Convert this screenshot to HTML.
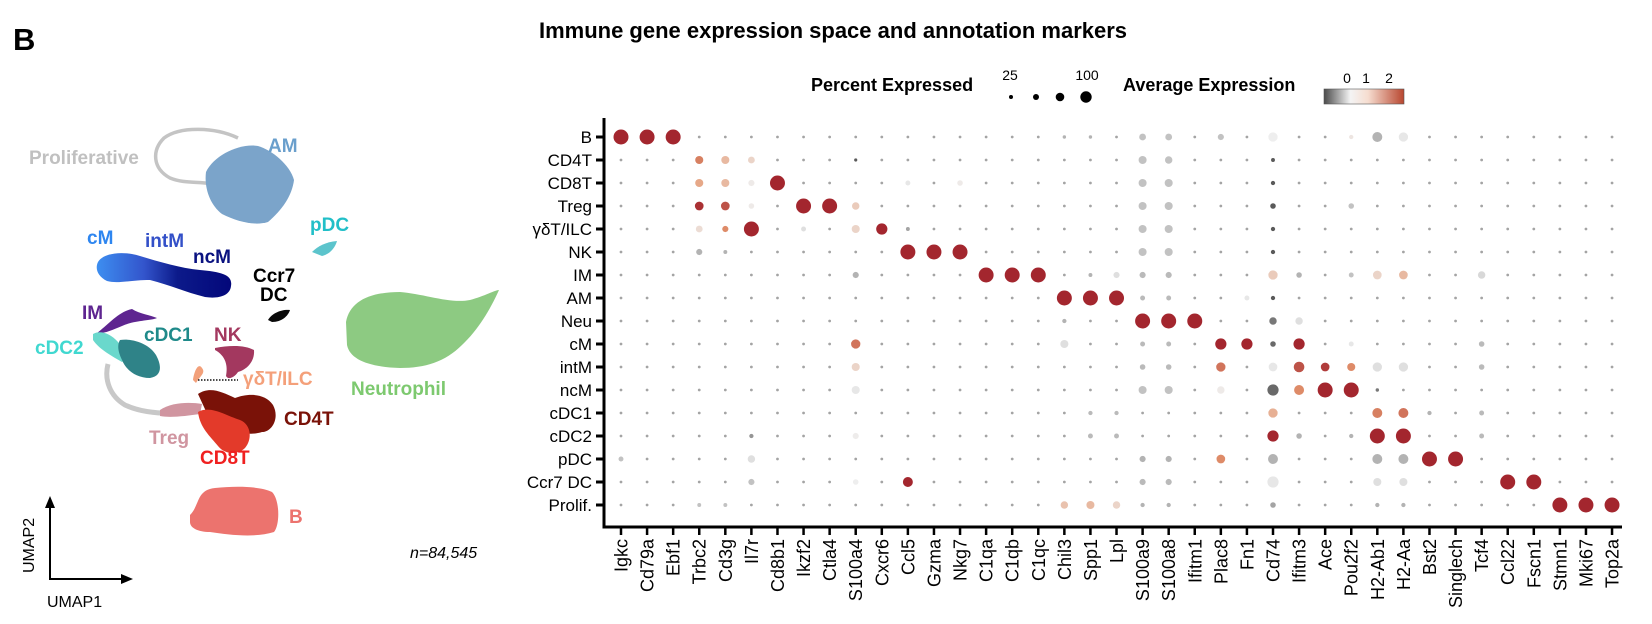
<!DOCTYPE html>
<html><head><meta charset="utf-8"><style>
html,body{margin:0;padding:0;background:#fff;}
svg{display:block;font-family:"Liberation Sans",sans-serif;}
</style></head><body>
<svg id="fig" width="1652" height="624" viewBox="0 0 1652 624" xmlns="http://www.w3.org/2000/svg">
<text x="13" y="50" font-size="31" font-weight="bold">B</text>
<text x="833" y="38" font-size="22" font-weight="bold" text-anchor="middle">Immune gene expression space and annotation markers</text>

<g>
  <path d="M238,138 C215,127 180,126 164,138 C152,150 152,168 170,178 C185,184 198,181 212,184" fill="none" stroke="#c4c4c4" stroke-width="3.5"/>
  <path d="M206,172 C214,155 240,143 258,146 C272,150 290,165 294,180 C292,196 282,210 268,222 C255,226 238,222 222,214 C210,205 204,188 206,172 Z" fill="#7ba4ca"/>
  <path d="M312,252 C318,246 326,242 337,241 C335,248 330,254 322,256 Z" fill="#5cc4cc"/>
  <defs><linearGradient id="mono" x1="0" x2="1"><stop offset="0" stop-color="#3d8ef0"/><stop offset="0.35" stop-color="#3355cc"/><stop offset="0.6" stop-color="#0c1a8a"/><stop offset="1" stop-color="#03077a"/></linearGradient>
  <linearGradient id="cbar" x1="0" x2="1"><stop offset="0" stop-color="#4a4a4a"/><stop offset="0.33" stop-color="#f4f4f4"/><stop offset="0.55" stop-color="#f6ddd0"/><stop offset="1" stop-color="#b8462f"/></linearGradient></defs>
  <path d="M98,262 C104,252 125,251 140,256 C160,262 180,268 200,270 C222,272 233,275 231,286 C230,296 218,299 205,297 C185,292 170,285 150,280 C130,280 118,284 107,281 C97,276 95,268 98,262 Z" fill="url(#mono)"/>
  <path d="M268,320 C272,313 282,309 290,310 C288,316 282,322 272,322 Z" fill="#0a0a0a"/>
  <path d="M97,333 C108,325 118,312 132,309 C140,314 150,315 157,318 C150,321 135,320 122,326 C112,330 104,334 97,333 Z" fill="#5e2590"/>
  <path d="M108,364 C104,380 110,396 125,405 C140,412 160,414 180,413 L196,410" fill="none" stroke="#c8c8c8" stroke-width="5"/>
  <path d="M93,334 C100,330 110,333 118,342 C125,350 128,358 122,362 C112,356 100,350 93,340 Z" fill="#6ad8cc"/>
  <path d="M120,340 C135,338 150,345 156,355 C162,366 162,376 150,378 C136,378 126,370 122,360 C118,352 117,345 120,340 Z" fill="#2f8388"/>
  <path d="M215,348 C230,345 245,345 254,350 C255,362 246,370 238,372 C234,378 228,380 226,376 C228,366 226,356 215,350 Z" fill="#a3385f"/>
  <path d="M160,410 C172,402 190,402 202,404 L200,414 C186,416 170,418 160,416 Z" fill="#d095a0"/>
  <path d="M196,383 C200,376 206,373 202,368 C198,362 194,372 193,380 Z" fill="#f2a07a"/>
  <path d="M198,394 C210,386 222,392 235,398 C248,393 265,393 273,405 C280,418 272,432 262,432 C250,436 238,432 230,430 L210,420 Z" fill="#7a1208"/>
  <path d="M198,412 C210,405 225,415 240,420 C252,425 252,440 245,448 C238,455 225,455 218,446 C210,436 200,428 198,412 Z" fill="#e33a2a"/>
  <path d="M346,322 C350,300 372,292 400,292 C425,294 450,304 470,300 C485,296 495,290 499,290 C490,310 478,330 462,345 C445,362 425,368 400,368 C370,367 350,360 347,345 Z" fill="#8dca82"/>
  <path d="M190,515 C200,505 196,490 215,488 C235,486 260,486 272,492 C280,500 280,525 274,532 C255,538 230,535 210,532 C198,532 190,528 190,522 Z" fill="#ec736e"/>
  <line x1="198" y1="380" x2="238" y2="380" stroke="#111" stroke-width="1.5" stroke-dasharray="1.5,1.5"/>
  <g font-weight="bold" font-size="19">
    <text x="29" y="164" fill="#c0c0c0">Proliferative</text>
    <text x="268" y="152" fill="#6a9fcc">AM</text>
    <text x="310" y="231" fill="#22bfc8">pDC</text>
    <text x="87" y="244" fill="#2e86f0">cM</text>
    <text x="145" y="247" fill="#3350c8">intM</text>
    <text x="193" y="263" fill="#0a1280">ncM</text>
    <text x="253" y="282" fill="#000">Ccr7</text>
    <text x="260" y="301" fill="#000">DC</text>
    <text x="82" y="319" fill="#5e2590">IM</text>
    <text x="35" y="354" fill="#40d8d0">cDC2</text>
    <text x="144" y="341" fill="#1f8a8a">cDC1</text>
    <text x="214" y="341" fill="#a3385f">NK</text>
    <text x="243" y="385" fill="#f4a07a">γδT/ILC</text>
    <text x="351" y="395" fill="#7dc96f">Neutrophil</text>
    <text x="284" y="425" fill="#7a1208">CD4T</text>
    <text x="149" y="444" fill="#d095a0">Treg</text>
    <text x="200" y="464" fill="#f02020">CD8T</text>
    <text x="289" y="523" fill="#ec736e">B</text>
  </g>
  <line x1="50" y1="580" x2="50" y2="505" stroke="#000" stroke-width="2"/>
  <polygon points="50,496 45,508 55,508" fill="#000"/>
  <line x1="49" y1="579" x2="124" y2="579" stroke="#000" stroke-width="2"/>
  <polygon points="133,579 121,574 121,584" fill="#000"/>
  <text transform="translate(34,573) rotate(-90)" font-size="16">UMAP2</text>
  <text x="47" y="607" font-size="16">UMAP1</text>
  <text x="410" y="558" font-size="16" font-style="italic">n=84,545</text>
</g>

<g>
  <text x="811" y="91" font-size="18" font-weight="bold">Percent Expressed</text>
  <text x="1010" y="80" font-size="14" text-anchor="middle">25</text>
  <text x="1087" y="80" font-size="14" text-anchor="middle">100</text>
  <circle cx="1011" cy="97" r="2" fill="#000"/>
  <circle cx="1036" cy="97" r="3" fill="#000"/>
  <circle cx="1060" cy="97" r="4.3" fill="#000"/>
  <circle cx="1086" cy="97" r="5.7" fill="#000"/>
  <text x="1123" y="91" font-size="18" font-weight="bold">Average Expression</text>
  <rect x="1324" y="89" width="80" height="15" fill="url(#cbar)" stroke="#555" stroke-width="0.6"/>
  <text x="1347" y="83" font-size="14" text-anchor="middle">0</text>
  <text x="1366" y="83" font-size="14" text-anchor="middle">1</text>
  <text x="1389" y="83" font-size="14" text-anchor="middle">2</text>
</g>
<g id="dotplot"></g>
</svg>
<script>
const cellTypes = ["B","CD4T","CD8T","Treg","γδT/ILC","NK","IM","AM","Neu","cM","intM","ncM","cDC1","cDC2","pDC","Ccr7 DC","Prolif."];
const genes = ["Igkc","Cd79a","Ebf1","Trbc2","Cd3g","Il7r","Cd8b1","Ikzf2","Ctla4","S100a4","Cxcr6","Ccl5","Gzma","Nkg7","C1qa","C1qb","C1qc","Chil3","Spp1","Lpl","S100a9","S100a8","Ifitm1","Plac8","Fn1","Cd74","Ifitm3","Ace","Pou2f2","H2-Ab1","H2-Aa","Bst2","Singlech","Tcf4","Ccl22","Fscn1","Stmn1","Mki67","Top2a"];
const basePct = 3;
const baseAvg = -0.5;
// notable cells: row index, gene index, percent expressed, average expression
const cellRow = [0,0,0,0,0,0,0,0,0,0,0,0, 1,1,1,1,1,1,1, 2,2,2,2,2,2,2,2,2, 3,3,3,3,3,3,3,3,3,3, 4,4,4,4,4,4,4,4,4,4, 5,5,5,5,5,5,5,5, 6,6,6,6,6,6,6,6,6,6,6,6,6,6, 7,7,7,7,7,7,7, 8,8,8,8,8,8, 9,9,9,9,9,9,9,9,9,9, 10,10,10,10,10,10,10,10,10,10,10, 11,11,11,11,11,11,11,11,11, 12,12,12,12,12,12,12, 13,13,13,13,13,13,13,13,13,13, 14,14,14,14,14,14,14,14,14,14, 15,15,15,15,15,15,15,15,15,15, 16,16,16,16,16,16,16,16,16,16,16,16,16];
const cellGene = [0,1,2,17,18,20,21,23,25,28,29,30, 3,4,5,20,21,25,9, 3,4,5,6,11,13,20,21,25, 3,4,5,7,8,9,20,21,25,28, 3,4,5,7,9,10,11,20,21,25, 3,4,11,12,13,20,21,25, 9,14,15,16,18,19,20,21,25,26,28,29,30,33, 17,18,19,20,21,24,25, 17,20,21,22,25,26, 9,17,20,21,23,24,25,26,28,33, 9,20,21,23,25,26,27,28,29,30,33, 9,20,21,23,25,26,27,28,29, 18,19,25,29,30,31,33, 5,9,18,19,25,26,28,29,30,33, 0,5,20,21,23,25,29,30,31,32, 5,9,11,20,21,25,29,30,34,35, 3,4,17,18,19,20,21,25,29,30,36,37,38];
const cellPct = [100,100,100,8,8,35,35,30,55,15,60,55, 45,45,35,45,40,12,6, 45,45,30,100,20,25,45,45,15, 50,50,25,100,100,40,45,45,25,25, 35,30,100,20,45,70,12,45,45,15, 30,12,100,100,100,45,45,15, 30,100,100,100,12,30,30,30,55,25,20,50,50,40, 100,100,100,20,20,20,15, 15,100,100,100,40,40, 55,45,20,20,70,70,25,70,20,25, 45,25,25,55,50,65,50,45,55,55,25, 45,45,45,40,70,60,100,100,8, 15,15,55,60,60,15,20, 15,30,20,20,70,25,15,100,100,20, 20,40,30,30,50,60,60,60,100,100, 30,25,60,30,30,70,45,45,100,100, 12,12,40,45,40,15,15,25,15,15,100,100,100];
const cellAvg = [2.5,2.5,2.5,-.4,-.4,-.3,-.3,-.3,0,.1,-.4,-.05, 1.2,.6,.3,-.3,-.3,-1,-1, .8,.6,.05,2.5,-.05,.05,-.3,-.3,-1, 1.9,1.6,.05,2.5,2.5,.4,-.3,-.3,-1,-.3, .2,1.1,2.5,-.1,.3,2.5,-.5,-.3,-.3,-1, -.4,-.4,2.5,2.5,2.5,-.3,-.3,-1, -.4,2.5,2.5,2.5,-.4,-.1,-.35,-.35,.4,-.4,-.3,.3,.6,-.15, 2.5,2.5,2.5,-.35,-.35,-.05,-1, -.4,2.5,2.5,2.5,-.8,-.1, 1.3,-.1,-.35,-.35,2.0,2.5,-.9,2.0,-.05,-.35, .3,-.35,-.35,1.3,-.05,1.6,1.8,1.1,-.1,-.1,-.35, -.05,-.3,-.3,.05,-.9,1.1,2.5,2.5,-.8, -.35,-.35,.7,1.2,1.3,-.4,-.35, -.6,.02,-.35,-.35,2.5,-.4,-.4,2.5,2.5,-.35, -.3,-.1,-.4,-.4,1.1,-.4,-.4,-.4,2.5,2.5, -.3,0,2.5,-.35,-.35,-.05,-.1,-.1,2.5,2.5, -.3,-.3,.5,.6,.3,-.4,-.4,-.5,-.4,-.4,2.5,2.5,2.5];

const NS = "http://www.w3.org/2000/svg";
const g = document.getElementById("dotplot");
const x0 = 621, dx = 26.08, y0 = 137, dy = 23, axisX = 604, axisY = 527;
function xPos(i){ return x0 + i*dx; }
function yPos(j){ return y0 + j*dy; }
function rScale(p){ return Math.max(1.1, 1.2 + 6.3*p/100); }
function lerp(a,b,t){ return a.map((v,k)=>Math.round(v+(b[k]-v)*t)); }
function cScale(v){
  const stops=[[-1,[90,90,90]],[0,[238,238,238]],[1,[228,150,110]],[2,[163,38,46]]];
  v=Math.max(-1,Math.min(2,v));
  for(let k=0;k<stops.length-1;k++){ if(v<=stops[k+1][0]){ const t=(v-stops[k][0])/(stops[k+1][0]-stops[k][0]); const c=lerp(stops[k][1],stops[k+1][1],t); return "rgb("+c.join(",")+")"; } }
  return "rgb(163,38,46)";
}
function mk(tag, attrs){ const e=document.createElementNS(NS,tag); for(const k in attrs) e.setAttribute(k,attrs[k]); g.appendChild(e); return e; }
const pct = cellTypes.map(()=>genes.map(()=>basePct));
const avg = cellTypes.map(()=>genes.map(()=>baseAvg));
cellRow.forEach((r,k)=>{ pct[r][cellGene[k]] = cellPct[k]; avg[r][cellGene[k]] = cellAvg[k]; });

for(let j=0;j<cellTypes.length;j++){
  for(let i=0;i<genes.length;i++){
    const c = mk("circle",{cx:xPos(i),cy:yPos(j),r:rScale(pct[j][i]),fill:cScale(avg[j][i])});
    
    
  }
}
const ya = mk("line",{x1:axisX,y1:118,x2:axisX,y2:axisY+1.5,stroke:"#000","stroke-width":3});


const xa = mk("line",{x1:axisX-1.5,y1:axisY,x2:1622,y2:axisY,stroke:"#000","stroke-width":3});


cellTypes.forEach((c,j)=>{
  const t = mk("line",{x1:axisX-8,y1:yPos(j),x2:axisX,y2:yPos(j),stroke:"#000","stroke-width":3});
  
  
  const l = mk("text",{x:axisX-12,y:yPos(j)+6,"font-size":17,"text-anchor":"end"});
  l.textContent = c;
  
  
});
genes.forEach((gn,i)=>{
  const t = mk("line",{x1:xPos(i),y1:axisY,x2:xPos(i),y2:axisY+8,stroke:"#000","stroke-width":2.5});
  
  
  const l = mk("text",{transform:"translate("+(xPos(i)+6.5)+","+(axisY+12)+") rotate(-90)","font-size":18,"text-anchor":"end"});
  l.textContent = gn;
  
  
});
</script>
</body></html>
